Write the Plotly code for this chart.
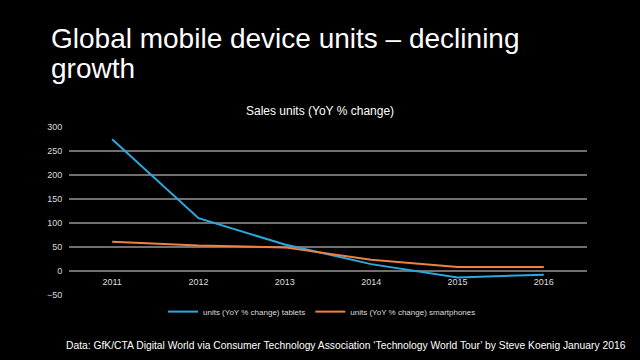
import plotly.graph_objects as go

years = ["2011", "2012", "2013", "2014", "2015", "2016"]
tablets = [275, 110, 55, 14, -14, -8]
smartphones = [61, 53, 49, 23, 8, 8]
y_ticks = [-50, 0, 50, 100, 150, 200, 250, 300]

W, H = 640, 360
L, R_EDGE, T, B_EDGE = 69, 587, 126.5, 295.3
PW, PH = R_EDGE - L, B_EDGE - T
YMIN, YMAX = -50.5, 300.5


def px2x(px):
    return (px - L) / PW


def py2y(py):
    return (B_EDGE - py) / PH


FONT = "Liberation Sans, Arial, Helvetica, sans-serif"

fig = go.Figure()
fig.add_trace(go.Scatter(x=years, y=tablets, mode="lines", name="units (YoY % change) tablets",
                         line=dict(color="#2aa9e0", width=2)))
fig.add_trace(go.Scatter(x=years, y=smartphones, mode="lines", name="units (YoY % change) smartphones",
                         line=dict(color="#f08040", width=2)))

zero_pos = (0 - YMIN) / (YMAX - YMIN)

fig.update_layout(
    width=W, height=H,
    paper_bgcolor="black", plot_bgcolor="black",
    margin=dict(l=L, r=W - R_EDGE, t=T, b=H - B_EDGE, pad=0),
    font=dict(family=FONT, color="#dddddd"),
    showlegend=True,
    legend=dict(orientation="h", x=px2x(322), xanchor="center", y=py2y(312), yanchor="middle",
                font=dict(size=8, color="#dddddd"), itemwidth=30, bgcolor="rgba(0,0,0,0)"),
    xaxis=dict(type="category", range=[-0.5, 5.5], showgrid=False, zeroline=False, showline=False,
               anchor="free", position=zero_pos, ticks="outside", ticklen=2, tickcolor="rgba(0,0,0,0)",
               tickfont=dict(size=9, color="#dddddd")),
    yaxis=dict(range=[YMIN, YMAX], tickvals=y_ticks, showgrid=True, gridcolor="#707070", gridwidth=1.5,
               zeroline=False, showline=False, ticks="outside", ticklen=4, tickcolor="rgba(0,0,0,0)",
               tickfont=dict(size=9, color="#dddddd")),
)

fig.add_annotation(text="Global mobile device units – declining", xref="paper", yref="paper",
                   x=px2x(49), y=py2y(38), xanchor="left", yanchor="middle", showarrow=False,
                   font=dict(size=28, color="white", family=FONT))
fig.add_annotation(text="growth", xref="paper", yref="paper",
                   x=px2x(49), y=py2y(68), xanchor="left", yanchor="middle", showarrow=False,
                   font=dict(size=28, color="white", family=FONT))
fig.add_annotation(text="Sales units (YoY % change)", xref="paper", yref="paper",
                   x=px2x(320), y=py2y(110), xanchor="center", yanchor="middle", showarrow=False,
                   font=dict(size=12, color="white", family=FONT))
fig.add_annotation(text="Data: GfK/CTA Digital World via Consumer Technology Association ‘Technology World Tour’ by Steve Koenig January 2016",
                   xref="paper", yref="paper",
                   x=px2x(345.5), y=py2y(346.5), xanchor="center", yanchor="middle", showarrow=False,
                   font=dict(size=10.3, color="white", family=FONT))

fig.write_html("out.html", config={"displayModeBar": False},
               post_script="document.body.style.margin='0';document.body.style.background='black';")
